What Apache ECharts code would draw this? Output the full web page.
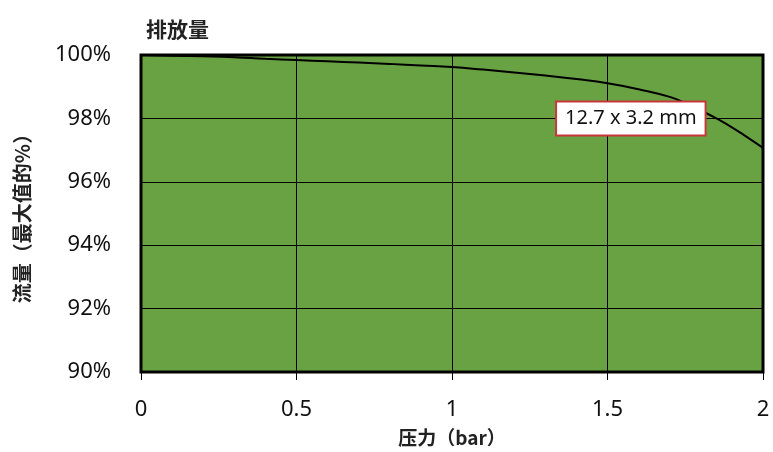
<!DOCTYPE html>
<html><head><meta charset="utf-8">
<script src="https://cdn.jsdelivr.net/npm/echarts@6/dist/echarts.min.js"></script>
<style>html,body{margin:0;padding:0;background:#fff}#c{width:773px;height:452px}</style>
</head><body><div id="c"></div>
<script>
const pressure = [0,0.1,0.2,0.3,0.4,0.5,0.6,0.7,0.8,0.9,1.0,1.1,1.2,1.3,1.4,1.5,1.6,1.7,1.75,1.8,1.85,1.9,1.95,2.0];
const flow = [100,99.98,99.96,99.93,99.88,99.84,99.80,99.76,99.72,99.67,99.62,99.54,99.45,99.35,99.24,99.11,98.92,98.68,98.48,98.25,98.0,97.72,97.40,97.07];
const titleText = '排放量';
const xName = '压力（bar）';
const yName = '流量（最大值的%）';
const annotationText = '12.7 x 3.2 mm';
const annotationAt = [1.575, 98.0];

const chart = echarts.init(document.getElementById('c'));
const font = '"Noto Sans", "Noto Sans CJK SC", sans-serif';
const cjk = '"Noto Sans CJK SC", sans-serif';
chart.setOption({
  animation: false,
  title: { text: titleText, left: 141, top: 14, textStyle: { fontFamily: cjk, fontSize: 21, fontWeight: 'bold', color: '#222' } },
  grid: { left: 141, right: 10, top: 55, bottom: 79, show: true, backgroundColor: '#69a243', borderColor: '#000', borderWidth: 3 },
  xAxis: {
    type: 'value', min: 0, max: 2, interval: 0.5,
    name: xName, nameLocation: 'middle', nameGap: 56,
    nameTextStyle: { fontFamily: cjk, fontSize: 19, fontWeight: 'bold', color: '#222' },
    axisLine: { show: false },
    axisTick: { show: true, length: 8, lineStyle: { color: '#000', width: 1 } },
    axisLabel: { margin: 27, fontFamily: font, fontSize: 22, color: '#111', formatter: v => String(v) },
    splitLine: { show: true, lineStyle: { color: '#000', width: 1 } }
  },
  yAxis: {
    type: 'value', min: 90, max: 100, interval: 2,
    name: yName, nameLocation: 'middle', nameGap: 109, nameRotate: 90,
    nameTextStyle: { fontFamily: cjk, fontSize: 20, fontWeight: 'bold', color: '#222' },
    axisLine: { show: false }, axisTick: { show: false },
    axisLabel: { margin: 30, fontFamily: font, fontSize: 22, color: '#111', formatter: v => v + '%', padding: [6, 0, 0, 0] },
    splitLine: { show: true, lineStyle: { color: '#000', width: 1 } }
  },
  series: [{
    type: 'line', data: pressure.map((p, i) => [p, flow[i]]),
    smooth: true, showSymbol: false, symbol: 'none',
    lineStyle: { color: '#000', width: 2 },
    markPoint: {
      symbol: 'rect', symbolSize: 1, itemStyle: { color: 'rgba(0,0,0,0)' },
      data: [{ coord: annotationAt }],
      label: {
        show: true, position: 'inside', formatter: annotationText,
        fontFamily: font, fontSize: 20, color: '#111',
        backgroundColor: '#fff', borderColor: '#c8363c', borderWidth: 2,
        padding: [6, 8, 6, 8]
      }
    }
  }]
});
</script></body></html>
